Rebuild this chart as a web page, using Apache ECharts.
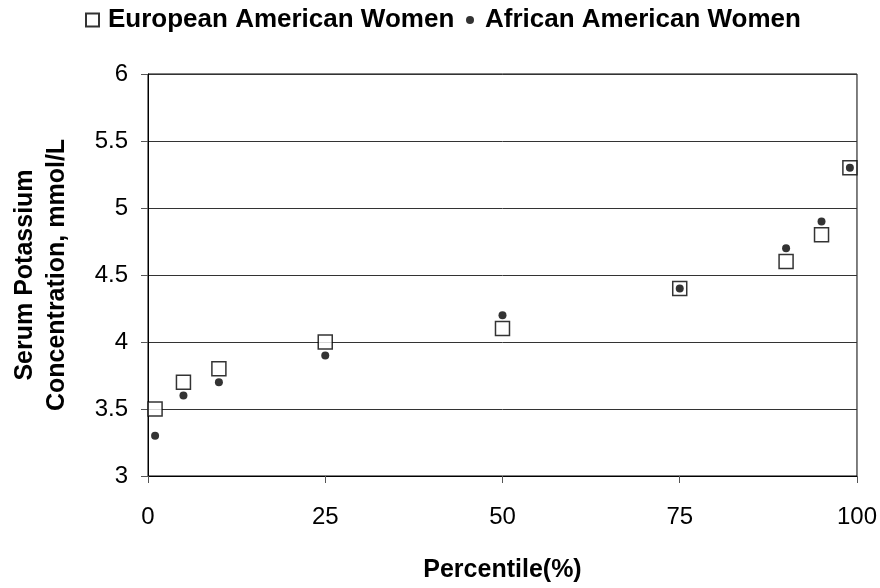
<!DOCTYPE html>
<html>
<head>
<meta charset="utf-8">
<script src="https://cdn.jsdelivr.net/npm/echarts@6/dist/echarts.min.js"></script>
<style>
html,body{margin:0;padding:0;background:#fff;}
#main{width:880px;height:588px;}
</style>
</head>
<body>
<div id="main"></div>
<script>
const percentiles = [1, 5, 10, 25, 50, 75, 90, 95, 99];
const europeanWomen = [3.5, 3.7, 3.8, 4.0, 4.1, 4.4, 4.6, 4.8, 5.3];
const africanWomen = [3.3, 3.6, 3.7, 3.9, 4.2, 4.4, 4.7, 4.9, 5.3];
const seriesNames = ['European American Women', 'African American Women'];
const xTitle = 'Percentile(%)';
const yTitle = 'Serum Potassium\nConcentration, mmol/L';

const FONT = '"Liberation Sans", Arial, sans-serif';
const chart = echarts.init(document.getElementById('main'), null, {renderer: 'canvas'});

function pairs(xs, ys) { return xs.map((x, i) => [x, ys[i]]); }

function legendText(padLeft) {
  return {fontFamily: FONT, fontWeight: 'bold', fontSize: 26, color: '#000', padding: [0, 0, 0, padLeft]};
}

chart.setOption({
  animation: false,
  backgroundColor: '#fff',
  legend: [
    {data: [seriesNames[0]], left: 80, top: 2, itemWidth: 13, itemHeight: 13, itemGap: 5, textStyle: legendText(4), selectedMode: false},
    {data: [seriesNames[1]], left: 461, top: 2, itemWidth: 8, itemHeight: 8, itemGap: 5, textStyle: legendText(6), selectedMode: false}
  ],
  grid: {left: 148, right: 23, top: 74, bottom: 110, show: true, borderColor: '#000', borderWidth: 1, backgroundColor: 'transparent'},
  xAxis: {
    type: 'value', min: 0, max: 100, interval: 25,
    name: xTitle, nameLocation: 'middle', nameGap: 82,
    nameTextStyle: {fontFamily: FONT, fontWeight: 'bold', fontSize: 25, color: '#000'},
    axisLine: {show: true, lineStyle: {color: '#000', width: 1}},
    axisTick: {show: true, length: 7, lineStyle: {color: '#555'}},
    axisLabel: {fontFamily: FONT, fontSize: 24, color: '#000', margin: 29},
    splitLine: {show: false}
  },
  yAxis: {
    type: 'value', min: 3, max: 6, interval: 0.5,
    name: yTitle, nameLocation: 'middle', nameGap: 75, nameRotate: 90,
    nameTextStyle: {fontFamily: FONT, fontWeight: 'bold', fontSize: 25, color: '#000', lineHeight: 32, align: 'center'},
    axisLine: {show: true, lineStyle: {color: '#000', width: 1}},
    axisTick: {show: true, length: 7, lineStyle: {color: '#555'}},
    axisLabel: {fontFamily: FONT, fontSize: 24, color: '#000', margin: 20},
    splitLine: {show: true, lineStyle: {color: '#333', width: 1}}
  },
  series: [
    {
      name: seriesNames[0], type: 'scatter', symbol: 'rect', symbolSize: 14,
      itemStyle: {color: '#fff', borderColor: '#000', borderWidth: 1.5},
      data: pairs(percentiles, europeanWomen), z: 2
    },
    {
      name: seriesNames[1], type: 'scatter', symbol: 'circle', symbolSize: 8,
      itemStyle: {color: '#000'},
      data: pairs(percentiles, africanWomen), z: 3
    }
  ]
});
</script>
</body>
</html>
